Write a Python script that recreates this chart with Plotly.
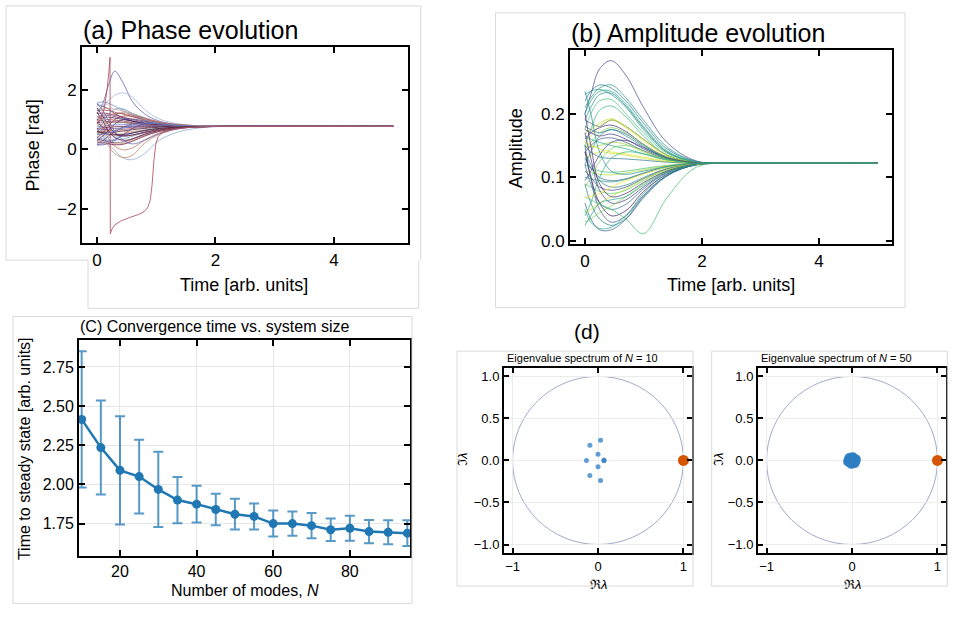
import plotly.graph_objects as go

W, H = 954, 643

# ---------------- Panel (a): phase evolution ----------------
PHASE_T = [0, 0.1, 0.2, 0.3, 0.45, 0.6, 0.8, 1.05, 1.4, 1.9]
PHASE_TAIL_T = [2.5, 3.5, 5.0]
PHASE_STEADY = 0.77
PHASE_CURVES = [
    [1.2, 1.55, 2.2, 2.63, 2.2, 1.6, 1.2, 0.95, 0.82, 0.78],
    [1.3, 1.45, 1.65, 1.82, 1.9, 1.75, 1.35, 1.02, 0.85, 0.78],
    [0.9, 0.6, 0.2, -0.05, -0.3, -0.35, -0.15, 0.3, 0.6, 0.75],
    [0.7, 0.45, 0.1, -0.15, -0.28, -0.2, 0.2, 0.5, 0.7, 0.77],
    [1.0, 0.7, 0.35, 0.1, -0.02, 0.05, 0.3, 0.55, 0.72, 0.77],
    [1.55, 1.6, 1.55, 1.45, 1.3, 1.15, 1.0, 0.88, 0.8, 0.775],
    [1.5, 1.45, 1.35, 1.2, 1.05, 0.95, 0.87, 0.82, 0.79, 0.775],
    [1.45, 1.5, 1.52, 1.45, 1.35, 1.22, 1.05, 0.9, 0.82, 0.78],
    [1.35, 1.38, 1.38, 1.35, 1.28, 1.18, 1.03, 0.9, 0.82, 0.78],
    [1.3, 1.32, 1.3, 1.25, 1.18, 1.1, 0.98, 0.88, 0.81, 0.777],
    [1.2, 1.22, 1.2, 1.15, 1.08, 1.0, 0.92, 0.85, 0.8, 0.776],
    [1.1, 1.15, 1.15, 1.1, 1.03, 0.96, 0.89, 0.83, 0.795, 0.775],
    [1.0, 1.05, 1.08, 1.05, 1.0, 0.94, 0.87, 0.82, 0.79, 0.775],
    [0.95, 0.98, 1.0, 0.98, 0.95, 0.9, 0.85, 0.81, 0.785, 0.774],
    [0.9, 0.92, 0.93, 0.92, 0.9, 0.87, 0.83, 0.8, 0.78, 0.772],
    [0.8, 0.85, 0.9, 0.92, 0.9, 0.87, 0.83, 0.8, 0.78, 0.772],
    [0.75, 0.78, 0.8, 0.82, 0.83, 0.82, 0.8, 0.785, 0.775, 0.77],
    [0.7, 0.72, 0.74, 0.76, 0.77, 0.775, 0.775, 0.772, 0.77, 0.77],
    [0.65, 0.66, 0.68, 0.7, 0.72, 0.74, 0.755, 0.765, 0.768, 0.77],
    [0.6, 0.6, 0.62, 0.64, 0.67, 0.7, 0.73, 0.75, 0.765, 0.77],
    [0.55, 0.55, 0.56, 0.58, 0.62, 0.66, 0.7, 0.74, 0.76, 0.77],
    [0.5, 0.48, 0.48, 0.5, 0.54, 0.6, 0.66, 0.71, 0.75, 0.768],
    [0.45, 0.42, 0.4, 0.42, 0.47, 0.54, 0.62, 0.69, 0.74, 0.767],
    [0.4, 0.35, 0.3, 0.3, 0.35, 0.44, 0.55, 0.65, 0.72, 0.765],
    [0.35, 0.3, 0.25, 0.22, 0.25, 0.35, 0.5, 0.63, 0.72, 0.765],
    [0.3, 0.27, 0.22, 0.18, 0.2, 0.3, 0.46, 0.61, 0.71, 0.765],
    [0.25, 0.22, 0.18, 0.15, 0.17, 0.27, 0.44, 0.6, 0.71, 0.765],
    [0.2, 0.2, 0.2, 0.2, 0.25, 0.35, 0.5, 0.64, 0.73, 0.766],
    [0.15, 0.2, 0.28, 0.35, 0.45, 0.55, 0.64, 0.71, 0.75, 0.768],
    [0.2, 0.3, 0.45, 0.6, 0.75, 0.85, 0.88, 0.84, 0.8, 0.775],
    [0.3, 0.45, 0.65, 0.85, 1.0, 1.02, 0.95, 0.86, 0.8, 0.775],
    [0.4, 0.55, 0.8, 1.0, 1.12, 1.1, 1.0, 0.89, 0.81, 0.777],
    [0.5, 0.7, 0.95, 1.15, 1.25, 1.2, 1.05, 0.9, 0.82, 0.778],
    [0.6, 0.9, 1.2, 1.35, 1.35, 1.2, 1.0, 0.87, 0.8, 0.775],
    [1.4, 1.1, 0.8, 0.55, 0.45, 0.48, 0.58, 0.68, 0.74, 0.768],
    [1.25, 0.95, 0.6, 0.4, 0.3, 0.35, 0.5, 0.64, 0.73, 0.766],
    [1.55, 1.3, 0.95, 0.6, 0.3, 0.18, 0.3, 0.52, 0.7, 0.765],
    [0.15, 0.15, 0.2, 0.3, 0.5, 0.7, 0.85, 0.86, 0.81, 0.776],
    [1.1, 1.0, 0.85, 0.7, 0.6, 0.58, 0.62, 0.69, 0.74, 0.768],
    [0.9, 0.75, 0.6, 0.5, 0.45, 0.48, 0.56, 0.66, 0.73, 0.767],
    [0.6, 0.55, 0.5, 0.48, 0.5, 0.55, 0.63, 0.7, 0.75, 0.768],
    [0.8, 0.95, 1.1, 1.2, 1.25, 1.2, 1.08, 0.93, 0.83, 0.78],
    [1.05, 1.1, 1.15, 1.2, 1.2, 1.15, 1.05, 0.92, 0.83, 0.779],
    [0.5, 0.5, 0.55, 0.62, 0.72, 0.82, 0.88, 0.86, 0.81, 0.776],
]
PHASE_COLOR_POS = [0.36, 0.15, 0.18, 0.82, 0.78, 0.25, 0.45, 0.1, 0.88, 0.7,
                   0.62, 0.4, 0.5, 0.66, 0.48, 0.8, 0.3, 0.58, 0.42, 0.72,
                   0.52, 0.9, 0.12, 0.22, 0.46, 0.84, 0.6, 0.93, 0.28, 0.38,
                   0.44, 0.68, 0.76, 0.2, 0.47, 0.56, 0.32, 0.4, 0.86, 0.64,
                   0.5, 0.08, 0.74, 0.26]
# phase-wrapping curve
SPIKE_T = [0, 0.06, 0.12, 0.17, 0.2, 0.22, 0.225, 0.25, 0.3, 0.4, 0.55, 0.7,
           0.8, 0.86, 0.9, 0.93, 0.96, 0.99, 1.03, 1.1, 1.25, 1.5, 1.9, 2.5, 3.5, 5.0]
SPIKE_V = [0.85, 1.0, 1.35, 2.0, 2.6, 3.1, -2.85, -2.7, -2.55, -2.42, -2.3, -2.2,
           -2.1, -1.95, -1.7, -1.2, -0.4, 0.15, 0.42, 0.56, 0.66, 0.73, 0.765, 0.77, 0.77, 0.77]

# ---------------- Panel (b): amplitude evolution ----------------
AMP_T = [0, 0.1, 0.25, 0.45, 0.7, 1.0, 1.4, 1.9]
AMP_TAIL_T = [2.5, 3.5, 5.0]
AMP_TAIL = [0.1228, 0.1225, 0.1225]
AMP_CURVES = [
    [0.20, 0.23, 0.27, 0.283, 0.26, 0.21, 0.155, 0.126],
    [0.22, 0.235, 0.245, 0.24, 0.22, 0.185, 0.145, 0.125],
    [0.21, 0.225, 0.24, 0.245, 0.225, 0.19, 0.148, 0.125],
    [0.23, 0.235, 0.238, 0.23, 0.21, 0.175, 0.14, 0.124],
    [0.20, 0.22, 0.235, 0.235, 0.215, 0.18, 0.142, 0.124],
    [0.19, 0.21, 0.23, 0.232, 0.212, 0.178, 0.14, 0.124],
    [0.175, 0.2, 0.22, 0.222, 0.2, 0.17, 0.138, 0.124],
    [0.15, 0.175, 0.205, 0.212, 0.195, 0.165, 0.135, 0.123],
    [0.19, 0.185, 0.18, 0.19, 0.18, 0.16, 0.135, 0.123],
    [0.17, 0.175, 0.185, 0.192, 0.18, 0.16, 0.135, 0.123],
    [0.155, 0.165, 0.18, 0.19, 0.178, 0.158, 0.134, 0.123],
    [0.16, 0.17, 0.178, 0.182, 0.172, 0.152, 0.132, 0.123],
    [0.18, 0.175, 0.17, 0.175, 0.168, 0.15, 0.131, 0.123],
    [0.145, 0.155, 0.17, 0.178, 0.17, 0.152, 0.132, 0.123],
    [0.175, 0.17, 0.165, 0.168, 0.16, 0.145, 0.13, 0.123],
    [0.12, 0.14, 0.165, 0.175, 0.165, 0.148, 0.13, 0.123],
    [0.15, 0.148, 0.15, 0.155, 0.152, 0.14, 0.128, 0.122],
    [0.14, 0.15, 0.16, 0.162, 0.155, 0.142, 0.129, 0.122],
    [0.165, 0.16, 0.155, 0.15, 0.145, 0.137, 0.127, 0.122],
    [0.155, 0.15, 0.145, 0.14, 0.137, 0.132, 0.126, 0.122],
    [0.13, 0.135, 0.14, 0.138, 0.135, 0.13, 0.125, 0.122],
    [0.15, 0.14, 0.132, 0.13, 0.129, 0.127, 0.124, 0.122],
    [0.12, 0.115, 0.11, 0.108, 0.11, 0.114, 0.119, 0.122],
    [0.11, 0.108, 0.105, 0.104, 0.107, 0.112, 0.118, 0.122],
    [0.13, 0.115, 0.1, 0.095, 0.098, 0.107, 0.117, 0.122],
    [0.10, 0.098, 0.095, 0.093, 0.097, 0.106, 0.116, 0.121],
    [0.14, 0.12, 0.095, 0.085, 0.088, 0.1, 0.114, 0.121],
    [0.11, 0.1, 0.085, 0.08, 0.085, 0.098, 0.113, 0.121],
    [0.09, 0.085, 0.078, 0.075, 0.08, 0.095, 0.112, 0.121],
    [0.17, 0.13, 0.08, 0.06, 0.065, 0.085, 0.108, 0.12],
    [0.12, 0.09, 0.06, 0.05, 0.058, 0.082, 0.107, 0.12],
    [0.14, 0.10, 0.06, 0.04, 0.048, 0.078, 0.105, 0.12],
    [0.15, 0.10, 0.05, 0.03, 0.04, 0.072, 0.103, 0.12],
    [0.09, 0.06, 0.035, 0.025, 0.035, 0.068, 0.102, 0.12],
    [0.06, 0.035, 0.018, 0.018, 0.035, 0.07, 0.103, 0.12],
    [0.05, 0.03, 0.02, 0.022, 0.04, 0.075, 0.105, 0.12],
    [0.07, 0.065, 0.058, 0.05, 0.035, 0.012, 0.068, 0.116],
    [0.03, 0.035, 0.045, 0.055, 0.07, 0.09, 0.11, 0.121],
    [0.045, 0.05, 0.06, 0.07, 0.082, 0.097, 0.112, 0.121],
    [0.068, 0.07, 0.075, 0.085, 0.095, 0.105, 0.116, 0.121],
    [0.20, 0.15, 0.09, 0.07, 0.075, 0.092, 0.11, 0.121],
    [0.235, 0.2, 0.14, 0.11, 0.105, 0.11, 0.117, 0.122],
    [0.04, 0.06, 0.10, 0.13, 0.14, 0.137, 0.128, 0.123],
    [0.085, 0.10, 0.125, 0.145, 0.15, 0.142, 0.13, 0.123],
    [0.095, 0.11, 0.135, 0.155, 0.158, 0.147, 0.131, 0.123],
    [0.025, 0.04, 0.06, 0.065, 0.07, 0.088, 0.109, 0.121],
]
AMP_COLOR_POS = [0.2, 0.4, 0.5, 0.55, 0.6, 0.45, 0.7, 0.65, 0.3, 0.9,
                 0.95, 0.1, 0.35, 0.8, 0.15, 0.5, 0.85, 0.25, 0.6, 0.98,
                 0.92, 0.4, 0.7, 0.88, 0.3, 0.55, 0.45, 0.2, 0.75, 0.15,
                 0.35, 0.05, 0.25, 0.42, 0.3, 0.6, 0.68, 0.8, 0.9, 1.0,
                 0.1, 0.5, 0.65, 0.78, 0.2, 0.58]

# ---------------- Panel (c): convergence time ----------------
N_MODES = [10, 15, 20, 25, 30, 35, 40, 45, 50, 55, 60, 65, 70, 75, 80, 85, 90, 95]
T_STEADY = [2.415, 2.235, 2.09, 2.05, 1.968, 1.90, 1.874, 1.84, 1.81, 1.796,
            1.75, 1.75, 1.737, 1.711, 1.72, 1.699, 1.695, 1.689]
T_ERR = [0.435, 0.30, 0.345, 0.235, 0.24, 0.148, 0.117, 0.10, 0.098, 0.083,
         0.083, 0.078, 0.08, 0.072, 0.08, 0.074, 0.077, 0.082]

# ---------------- Panel (d): eigenvalue spectra ----------------
EIG10_RE = [0.03, 0.03, -0.095, -0.095, 0.0, 0.0, -0.135, 0.07, 0.07]
EIG10_IM = [0.24, -0.24, 0.18, -0.18, 0.075, -0.075, 0.0, 0.005, -0.005]
EIG50_RE = [0.00, 0.02, -0.02, 0.04, -0.04, 0.06, -0.06, 0.07, -0.07, 0.01,
            -0.01, 0.03, -0.03, 0.05, -0.05, 0.02, -0.02, 0.04, -0.04, 0.06,
            -0.06, 0.00, 0.03, -0.03, 0.05, -0.05, 0.01, -0.01, 0.04, -0.04,
            0.02, -0.02, 0.00, 0.06, -0.06, 0.035, -0.035, 0.015, -0.015, 0.055,
            -0.055, 0.025, -0.025, 0.045, -0.045, 0.005, -0.005, 0.065, -0.065]
EIG50_IM = [0.00, 0.024, 0.024, 0.012, 0.012, 0.0, 0.0, 0.018, -0.018, 0.054,
            -0.054, 0.042, -0.042, 0.036, -0.036, -0.024, -0.024, -0.012, -0.012, 0.03,
            -0.03, 0.06, -0.054, 0.054, -0.036, 0.036, -0.06, 0.06, 0.042, -0.042,
            0.062, -0.062, -0.06, -0.024, 0.024, 0.0, 0.0, 0.0, 0.0, 0.012,
            -0.012, 0.048, -0.048, -0.05, 0.05, 0.03, -0.03, -0.006, 0.006]
LEADING_RE = [1.0]
LEADING_IM = [0.0]
UNIT_RADIUS = 1.0

# ---------------- colour maps ----------------
TWILIGHT = [(0.0, (226, 217, 226)), (0.1, (184, 200, 214)), (0.2, (128, 163, 204)),
            (0.3, (96, 120, 190)), (0.4, (94, 72, 165)), (0.5, (47, 20, 54)),
            (0.6, (112, 32, 75)), (0.7, (163, 70, 76)), (0.8, (196, 120, 92)),
            (0.9, (216, 174, 150)), (1.0, (226, 217, 226))]
VIRIDIS = [(0.0, (68, 1, 84)), (0.1, (72, 36, 117)), (0.2, (65, 68, 135)),
           (0.3, (53, 95, 141)), (0.4, (42, 120, 142)), (0.5, (33, 145, 140)),
           (0.6, (34, 168, 132)), (0.7, (68, 191, 112)), (0.8, (122, 209, 81)),
           (0.9, (189, 223, 38)), (1.0, (253, 231, 37))]


def cmap(stops, v, alpha):
    for (a, ca), (b, cb) in zip(stops[:-1], stops[1:]):
        if a <= v <= b:
            f = (v - a) / (b - a) if b > a else 0
            c = [round(ca[i] + f * (cb[i] - ca[i])) for i in range(3)]
            return f"rgba({c[0]},{c[1]},{c[2]},{alpha})"
    c = stops[-1][1]
    return f"rgba({c[0]},{c[1]},{c[2]},{alpha})"


def px(x):
    return x / W


def py(y):
    return 1 - y / H


fig = go.Figure()

# panel (a)
for vals, cpos in zip(PHASE_CURVES, PHASE_COLOR_POS):
    fig.add_trace(go.Scatter(x=PHASE_T + PHASE_TAIL_T, y=vals + [PHASE_STEADY] * len(PHASE_TAIL_T),
                             mode="lines", line=dict(color=cmap(TWILIGHT, cpos, 0.75), width=1,
                                                     shape="spline", smoothing=1.0),
                             xaxis="x", yaxis="y", hoverinfo="skip"))
fig.add_trace(go.Scatter(x=SPIKE_T, y=SPIKE_V, mode="lines",
                         line=dict(color="rgba(176,80,100,0.85)", width=1, shape="linear"),
                         xaxis="x", yaxis="y", hoverinfo="skip"))

# panel (b)
for vals, cpos in zip(AMP_CURVES, AMP_COLOR_POS):
    fig.add_trace(go.Scatter(x=AMP_T + AMP_TAIL_T, y=vals + AMP_TAIL,
                             mode="lines", line=dict(color=cmap(VIRIDIS, cpos, 0.7), width=1,
                                                     shape="spline", smoothing=1.0),
                             xaxis="x2", yaxis="y2", hoverinfo="skip"))

# panel (c)
fig.add_trace(go.Scatter(x=N_MODES, y=T_STEADY, mode="lines+markers",
                         line=dict(color="#1f77b4", width=2.5),
                         marker=dict(color="#1f77b4", size=9),
                         error_y=dict(type="data", array=T_ERR, color="rgba(31,119,180,0.75)",
                                      thickness=2, width=5),
                         xaxis="x3", yaxis="y3", cliponaxis=True))

# panel (d)
for xa, ya, re, im, ms in (("x4", "y4", EIG10_RE, EIG10_IM, 5), ("x5", "y5", EIG50_RE, EIG50_IM, 6)):
    fig.add_trace(go.Scatter(x=re, y=im, mode="markers",
                             marker=dict(color="rgba(45,125,195,0.75)", size=ms, line=dict(width=0)),
                             xaxis=xa, yaxis=ya))
    fig.add_trace(go.Scatter(x=LEADING_RE, y=LEADING_IM, mode="markers",
                             marker=dict(color="#d55500", size=11, line=dict(width=0)),
                             xaxis=xa, yaxis=ya, cliponaxis=False))

FONT = "Liberation Sans, Arial, Helvetica, sans-serif"

axis_common = dict(showline=True, linecolor="black", linewidth=2, mirror="ticks",
                   ticks="inside", tickcolor="black", tickwidth=1.5, showgrid=False,
                   zeroline=False, tickfont=dict(family=FONT, color="black"))

layout = dict(
    width=W, height=H, margin=dict(l=0, r=0, t=0, b=0), showlegend=False,
    paper_bgcolor="white", plot_bgcolor="white",
    font=dict(family=FONT, color="black"),
)

# axes (a)
layout["xaxis"] = dict(axis_common, domain=[px(82), px(408)], range=[-0.253, 5.25],
                       tickvals=[0, 2, 4], ticklen=6, anchor="y", tickfont=dict(family=FONT, size=17))
layout["yaxis"] = dict(axis_common, domain=[py(246), py(48)], range=[-3.17, 3.43],
                       tickvals=[-2, 0, 2], ticktext=["\u22122", "0", "2"], ticklen=6, anchor="x",
                       tickfont=dict(family=FONT, size=17))
# axes (b)
layout["xaxis2"] = dict(axis_common, domain=[px(570), px(892)], range=[-0.256, 5.25],
                        tickvals=[0, 2, 4], ticklen=6, anchor="y2", tickfont=dict(family=FONT, size=17))
layout["yaxis2"] = dict(axis_common, domain=[py(247), py(51)], range=[-0.0047, 0.299],
                        tickvals=[0.0, 0.1, 0.2], ticktext=["0.0", "0.1", "0.2"], ticklen=6,
                        anchor="x2", tickfont=dict(family=FONT, size=17))
# axes (c)
layout["xaxis3"] = dict(axis_common, domain=[px(79), px(410)], range=[9.3, 95.7],
                        tickvals=[20, 40, 60, 80], ticklen=6, anchor="y3", showgrid=True,
                        gridcolor="#e6e6e6", gridwidth=1, tickfont=dict(family=FONT, size=16))
layout["yaxis3"] = dict(axis_common, domain=[py(562), py(344)], range=[1.544, 2.92],
                        tickvals=[1.75, 2.0, 2.25, 2.5, 2.75],
                        ticktext=["1.75", "2.00", "2.25", "2.50", "2.75"], ticklen=6,
                        anchor="x3", showgrid=True, gridcolor="#e6e6e6", gridwidth=1,
                        tickfont=dict(family=FONT, size=16))
# axes (d)
for i, (x0, x1) in ((4, (504, 692)), (5, (758, 946))):
    layout[f"xaxis{i}"] = dict(axis_common, domain=[px(x0), px(x1)], range=[-1.1, 1.1],
                               tickvals=[-1, 0, 1], ticktext=["\u22121", "0", "1"], ticklen=5,
                               anchor=f"y{i}", showgrid=True, gridcolor="#ececec",
                               tickfont=dict(family=FONT, size=13))
    layout[f"yaxis{i}"] = dict(axis_common, domain=[py(559), py(372)], range=[-1.1, 1.1],
                               tickvals=[-1, -0.5, 0, 0.5, 1],
                               ticktext=["\u22121.0", "\u22120.5", "0.0", "0.5", "1.0"], ticklen=5,
                               anchor=f"x{i}", showgrid=True, gridcolor="#ececec",
                               tickfont=dict(family=FONT, size=13))

fig.update_layout(**layout)

# unit circles
for i in (4, 5):
    fig.add_shape(type="circle", xref=f"x{i}", yref=f"y{i}", x0=-UNIT_RADIUS, y0=-UNIT_RADIUS,
                  x1=UNIT_RADIUS, y1=UNIT_RADIUS, line=dict(color="#a3abc9", width=1), layer="below")

# light frames of the sub-figures
FRAME = dict(color="#d9d9d9", width=1)


def path(points):
    return "M " + " L ".join(f"{px(x)},{py(y)}" for x, y in points)


fig.add_shape(type="path", xref="paper", yref="paper", line=FRAME,
              path=path([(88, 263), (6, 263), (6, 6), (420.7, 6), (420.7, 263)]))
fig.add_shape(type="path", xref="paper", yref="paper", line=FRAME,
              path=path([(88, 263), (88, 311.7), (418.7, 311.7), (418.7, 263)]))
for (x0, y0, x1, y1) in ((495.5, 13, 905, 311), (13, 320, 412, 610),
                         (457, 355, 693, 592.5), (711.7, 355, 947.3, 592.5)):
    fig.add_shape(type="rect", xref="paper", yref="paper", line=FRAME,
                  x0=px(x0), x1=px(x1), y0=py(y1), y1=py(y0))


def ann(text, x, y, size, angle=0, xanchor="center"):
    fig.add_annotation(text=text, x=px(x), y=py(y), xref="paper", yref="paper",
                       showarrow=False, textangle=angle, xanchor=xanchor, yanchor="middle",
                       borderpad=0, font=dict(family=FONT, size=size, color="black"))


ann("(a) Phase evolution", 82, 30, 25, xanchor="left")
ann("Phase [rad]", 33, 147, 18, angle=-90)
ann("Time [arb. units]", 244, 288, 18)

ann("(b) Amplitude evolution", 570, 33, 25, xanchor="left")
ann("Amplitude", 516, 150, 18, angle=-90)
ann("Time [arb. units]", 731, 288, 18)

ann("(C) Convergence time vs. system size", 79, 330, 16, xanchor="left")
ann("Time to steady state [arb. units]", 24, 454, 16, angle=-90)
ann("Number of modes, <i>N</i>", 244.5, 597, 16)

ann("(d)", 587, 335, 21)
ann("Eigenvalue spectrum of <i>N</i> = 10", 582, 362, 11)
ann("Eigenvalue spectrum of <i>N</i> = 50", 836.5, 362, 11)
ann("\u211c<i>\u03bb</i>", 598, 591, 13)
ann("\u211c<i>\u03bb</i>", 852, 591, 13)
ann("\u2111<i>\u03bb</i>", 463, 465, 13, angle=-90)
ann("\u2111<i>\u03bb</i>", 719, 465, 13, angle=-90)

fig.write_html("out.html")
